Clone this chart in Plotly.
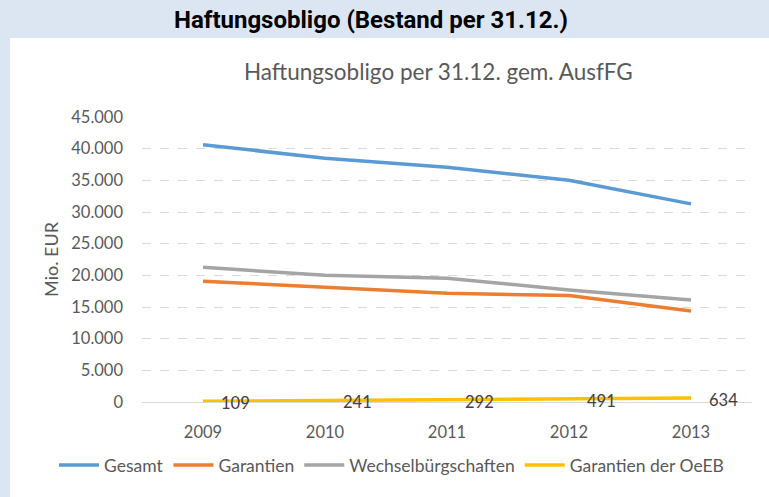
import plotly.graph_objects as go

years = ["2009", "2010", "2011", "2012", "2013"]
gesamt = [40630, 38480, 37060, 35000, 31280]
garantien = [19070, 18170, 17170, 16800, 14380]
wechsel = [21260, 20000, 19530, 17700, 16100]
oeeb = [109, 241, 292, 491, 634]
y_ticks = [0, 5000, 10000, 15000, 20000, 25000, 30000, 35000, 40000, 45000]

FONT = "Lato"
TXT = "#595959"
fig = go.Figure()
series = [
    ("Gesamt", gesamt, "#5b9bd5"),
    ("Garantien", garantien, "#ed7d31"),
    ("Wechselbürgschaften", wechsel, "#a5a5a5"),
    ("Garantien der OeEB", oeeb, "#ffc000"),
]
for name, vals, col in series:
    fig.add_trace(go.Scatter(x=years, y=vals, name=name, mode="lines",
                             line=dict(color=col, width=3.5, shape="linear")))

# data labels (category index positions on the category axis)
for i, v in enumerate(oeeb):
    fig.add_annotation(x=i, y=v, text=f"{v}", showarrow=False, xanchor="left",
                       yanchor="middle", xshift=16, yshift=-2,
                       font=dict(family=FONT, size=16.5, color="#404040"))

L, R, T, B = 142, 17, 117, 95
W, H = 769, 497
pw, ph = W - L - R, H - T - B
def px(x):
    return (x - L) / pw
def py(y):
    return (H - B - y) / ph

fig.add_shape(type="rect", xref="paper", yref="paper", x0=px(10), x1=px(780),
              y0=py(510), y1=py(38), fillcolor="white", line=dict(width=0), layer="below")

fig.add_annotation(xref="paper", yref="paper", x=px(371), y=py(20), text="<b>Haftungsobligo (Bestand per 31.12.)</b>",
                   showarrow=False, xanchor="center", yanchor="middle",
                   font=dict(family="Roboto", size=24, color="#000000"))
fig.add_annotation(xref="paper", yref="paper", x=px(438), y=py(72), text="Haftungsobligo per 31.12. gem. AusfFG",
                   showarrow=False, xanchor="center", yanchor="middle",
                   font=dict(family=FONT, size=22.5, color=TXT))

fig.update_layout(
    width=W, height=H,
    margin=dict(l=L, r=R, t=T, b=B, autoexpand=False),
    paper_bgcolor="#dce6f2", plot_bgcolor="white",
    separators=",.",
    font=dict(family=FONT, size=16.5, color=TXT),
    showlegend=True,
    legend=dict(orientation="h", x=px(54), y=py(465), xanchor="left", yanchor="middle",
                font=dict(family=FONT, size=17.5, color=TXT), bgcolor="rgba(0,0,0,0)",
                itemwidth=40, tracegroupgap=0),
    xaxis=dict(type="category", range=[-0.5, 4.5], showgrid=False, zeroline=False,
               showline=False, ticks="",
               ticklabelstandoff=18, tickfont=dict(size=16.5, color=TXT)),
    yaxis=dict(range=[0, 45000], tickvals=y_ticks, tickformat=",d",
               showgrid=True, gridcolor="#d9d9d9", griddash="dash", gridwidth=1,
               zeroline=True, zerolinecolor="#d9d9d9", zerolinewidth=1,
               showline=False, ticks="", ticklabelstandoff=18,
               tickfont=dict(size=16.5, color=TXT),
               title=dict(text="Mio. EUR", font=dict(size=18, color=TXT), standoff=7)),
)

fig.write_html("out.html", config={"displayModeBar": False},
               post_script="document.body.style.margin='0';")
